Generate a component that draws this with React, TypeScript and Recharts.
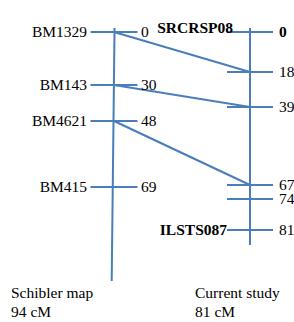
import React from 'react';
import { ComposedChart, XAxis, YAxis, Scatter, ReferenceLine } from 'recharts';

// Schibler map (left)
const leftMarkers = ['BM1329', 'BM143', 'BM4621', 'BM415'];
const leftCM = [0, 30, 48, 69];
const leftPos = [0, 53, 89, 155];
const leftAxisTop = { x: 0.004, y: -4 };
const leftAxisBottom = { x: -0.017, y: 249 };

// Current study (right)
const rightMarkers = ['SRCRSP08', '', '', '', '', 'ILSTS087'];
const rightCM = [0, 18, 39, 67, 74, 81];
const rightPos = [0, 40, 75, 153, 167, 198];
const rightAxisTop = { x: 1, y: -4 };
const rightAxisBottom = { x: 1, y: 213 };

// Links between maps (left cM -> right cM)
const linkFrom = [0, 30, 48];
const linkTo = [18, 39, 67];

const mapTitles = ['Schibler map', 'Current study'];
const mapLengths = ['94 cM', '81 cM'];

const BLUE = '#4a7ebb';
const FONT = '"Liberation Serif", "Times New Roman", Times, serif';
const FS = 15.5;
const textStyle = { fontFamily: FONT, fontSize: FS };

const leftData = leftMarkers.map((m, i) => ({ x: 0, y: leftPos[i], name: m, cm: leftCM[i] }));
const rightData = rightMarkers.map((m, i) => ({ x: 1, y: rightPos[i], name: m, cm: rightCM[i] }));

const posOf = (cms: number[], pos: number[], v: number) => pos[cms.indexOf(v)];

const LeftTick = (props: any) => {
  const { cx, cy, payload } = props;
  return (
    <g>
      <line x1={cx - 23.5} x2={cx + 23.5} y1={cy} y2={cy} stroke={BLUE} strokeWidth={2} />
      <text x={cx - 27} y={cy + 5} textAnchor="end" style={textStyle} fill="#000">
        {payload.name}
      </text>
      <text x={cx + 27} y={cy + 5} textAnchor="start" style={textStyle} fill="#000">
        {payload.cm}
      </text>
    </g>
  );
};

const RightTick = (props: any) => {
  const { cx, cy, payload } = props;
  const first = payload.cm === 0;
  return (
    <g>
      <line x1={cx - 23} x2={cx + 23} y1={cy} y2={cy} stroke={BLUE} strokeWidth={2} />
      {payload.name ? (
        <text
          x={first ? cx - 17 : cx - 23}
          y={first ? cy + 1 : cy + 5}
          textAnchor="end"
          style={{ ...textStyle, fontWeight: 'bold' }}
          fill="#000"
        >
          {payload.name}
        </text>
      ) : null}
      <text
        x={cx + 29}
        y={cy + 5}
        textAnchor="start"
        style={{ ...textStyle, fontWeight: first ? 'bold' : 'normal' }}
        fill="#000"
      >
        {payload.cm}
      </text>
    </g>
  );
};

export default function App() {
  return (
    <div style={{ position: 'absolute', left: 0, top: 0, width: 294, height: 322, background: '#fff' }}>
      <ComposedChart width={294} height={322} margin={{ top: 0, right: 44, bottom: 0, left: 114 }}>
        <XAxis type="number" dataKey="x" domain={[0, 1]} allowDataOverflow={false} hide />
        <YAxis type="number" dataKey="y" domain={[-32, 290]} reversed hide width={0} />
        <ReferenceLine segment={[leftAxisTop, leftAxisBottom]} stroke={BLUE} strokeWidth={2} ifOverflow="visible" />
        <ReferenceLine segment={[rightAxisTop, rightAxisBottom]} stroke={BLUE} strokeWidth={2} ifOverflow="visible" />
        {linkFrom.map((f, i) => (
          <ReferenceLine
            key={i}
            segment={[
              { x: 0, y: posOf(leftCM, leftPos, f) },
              { x: 1, y: posOf(rightCM, rightPos, linkTo[i]) },
            ]}
            stroke={BLUE}
            strokeWidth={2}
            ifOverflow="visible"
          />
        ))}
        <Scatter data={leftData} shape={LeftTick} isAnimationActive={false} />
        <Scatter data={rightData} shape={RightTick} isAnimationActive={false} />
      </ComposedChart>
      <svg width={294} height={322} style={{ position: 'absolute', left: 0, top: 0, pointerEvents: 'none' }}>
        <text x={11} y={298} style={textStyle} fill="#000">{mapTitles[0]}</text>
        <text x={11} y={317} style={textStyle} fill="#000">{mapLengths[0]}</text>
        <text x={195} y={298} style={textStyle} fill="#000">{mapTitles[1]}</text>
        <text x={195} y={317} style={textStyle} fill="#000">{mapLengths[1]}</text>
      </svg>
    </div>
  );
}
